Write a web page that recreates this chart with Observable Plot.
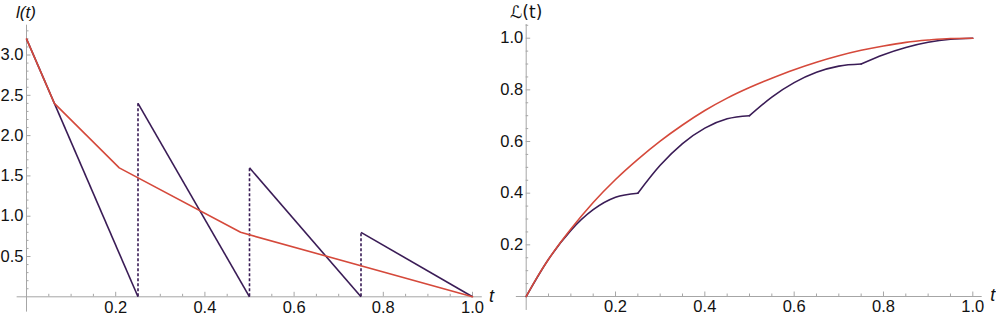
<!DOCTYPE html>
<html>
<head>
<meta charset="utf-8">
<script src="https://cdn.jsdelivr.net/npm/d3@7"></script>
<script src="https://cdn.jsdelivr.net/npm/@observablehq/plot@0.6"></script>
<style>
  html, body { margin: 0; padding: 0; background: #fff; }
  #row { display: flex; flex-direction: row; width: 996px; height: 320px; }
  #row svg { flex: none; }
</style>
</head>
<body>
<div id="row"></div>
<script>
// ---- Left panel data: l(t) ----
const sawStart = [0, 0.25, 0.5, 0.75];
const sawPeak  = [3.2, 2.4, 1.6, 0.8];
const sawEnd   = [0.25, 0.5, 0.75, 1.0];
const jumpT    = [0.25, 0.5, 0.75];
const jumpTop  = [2.4, 1.6, 0.8];

const redT = [0, 0.0625, 0.208, 0.48, 1.0];
const redL = [3.2, 2.4, 1.6, 0.8, 0];

// ---- Right panel data: Lorenz curves ----
const lorT = [0, 0.05, 0.1, 0.15, 0.2, 0.25, 0.3, 0.35, 0.4, 0.45, 0.5,
              0.55, 0.6, 0.65, 0.7, 0.75, 0.8, 0.85, 0.9, 0.95, 1.0];
const lorPurple = [0, 0.144, 0.256, 0.336, 0.384, 0.4, 0.508, 0.592, 0.652, 0.688, 0.7,
                   0.772, 0.828, 0.868, 0.892, 0.9, 0.936, 0.964, 0.984, 0.996, 1.0];
const lorRedT = [0, 0.025, 0.05, 0.1, 0.15, 0.2, 0.25, 0.3, 0.35, 0.4, 0.45, 0.5,
                 0.55, 0.6, 0.65, 0.7, 0.75, 0.8, 0.85, 0.9, 0.95, 1.0];
const lorRed = [0, 0.076, 0.144, 0.261, 0.364, 0.453, 0.531, 0.6015, 0.664, 0.72, 0.768, 0.809,
                0.845, 0.878, 0.907, 0.932, 0.953, 0.970, 0.984, 0.993, 0.999, 1.0];
const kinks = [0.25, 0.5, 0.75];

// ---- Ticks ----
const xMajor = [0.2, 0.4, 0.6, 0.8, 1.0];
const xMinor = d3.range(1, 21).map(i => i * 0.05).filter(v => !xMajor.some(m => Math.abs(m - v) < 1e-9));
const yMajorL = [0.5, 1.0, 1.5, 2.0, 2.5, 3.0];
const yMinorL = d3.range(1, 34).map(i => i * 0.1).filter(v => !yMajorL.some(m => Math.abs(m - v) < 1e-9));
const yMajorR = [0.2, 0.4, 0.6, 0.8, 1.0];
const yMinorR = d3.range(1, 22).map(i => i * 0.05).filter(v => !yMajorR.some(m => Math.abs(m - v) < 1e-9));

const PURPLE = "#3a1c56";
const RED = "#d5493b";
const AXIS = "#a6a6a6";
const TXT = "#111";
const FONT = "'Liberation Sans', Arial, sans-serif";
const fmt = d3.format(".1f");
const style = {fontFamily: FONT, fontSize: "16px", color: TXT, background: "#fff", overflow: "visible"};

function axes(yMajor, yMinor, xExt, yExt) {
  return [
    Plot.ruleY([0], {x1: xExt[0], x2: xExt[1], stroke: AXIS, strokeWidth: 1}),
    Plot.ruleX([0], {y1: yExt[0], y2: yExt[1], stroke: AXIS, strokeWidth: 1}),
    Plot.axisX({ticks: xMinor, tickSize: -2.5, text: null, stroke: AXIS, label: null}),
    Plot.axisX({ticks: xMajor, tickSize: -4.5, text: null, stroke: AXIS, label: null}),
    Plot.axisX({ticks: xMajor, tickSize: 0, tickPadding: 4, tickFormat: fmt, label: null, fill: TXT, fontSize: 16.5, fontFamily: FONT}),
    Plot.axisY({ticks: yMinor, tickSize: -2.5, text: null, stroke: AXIS, label: null}),
    Plot.axisY({ticks: yMajor, tickSize: -4.5, text: null, stroke: AXIS, label: null}),
    Plot.axisY({ticks: yMajor, tickSize: 0, tickPadding: 3, tickFormat: fmt, label: null, fill: TXT, fontSize: 16.5, fontFamily: FONT})
  ];
}

const labelOpts = {textAnchor: "middle", lineAnchor: "middle", fill: TXT, fontFamily: FONT};

// Left panel
const saw = sawStart.map((s, i) => ({x1: s, y1: sawPeak[i], x2: sawEnd[i], y2: 0}));
const jumps = jumpT.map((t, i) => ({t, top: jumpTop[i]}));
const redLine = redT.map((t, i) => ({t, v: redL[i]}));

const left = Plot.plot({
  width: 498, height: 320,
  marginLeft: 26, marginRight: 26, marginTop: 38.4, marginBottom: 23.7,
  x: {domain: [0, 1]},
  y: {domain: [0, 3.2]},
  style,
  marks: [
    ...axes(yMajorL, yMinorL, [-0.021, 1.022], [-0.19, 3.37]),
    Plot.ruleX(jumps, {x: "t", y1: 0, y2: "top", stroke: PURPLE, strokeWidth: 1.6, strokeDasharray: "3,2"}),
    Plot.link(saw, {x1: "x1", y1: "y1", x2: "x2", y2: "y2", stroke: PURPLE, strokeWidth: 1.6}),
    Plot.line(redLine, {x: "t", y: "v", stroke: RED, strokeWidth: 1.6}),
    Plot.text(["l(t)"], {...labelOpts, frameAnchor: "top-left", dx: -0.5, dy: -26, fontStyle: "italic", fontSize: 17}),
    Plot.text(["t"], {...labelOpts, frameAnchor: "bottom-right", dx: 19, dy: -1, fontStyle: "italic", fontSize: 18})
  ]
});

// Right panel
const seg = t => Math.min(3, Math.floor(t / 0.25 + 1e-9));
const purplePts = [];
lorT.forEach((t, i) => {
  purplePts.push({t, v: lorPurple[i], z: seg(t)});
  if (kinks.some(k => Math.abs(k - t) < 1e-9)) purplePts.push({t, v: lorPurple[i], z: seg(t) - 1});
});
purplePts.sort((a, b) => a.z - b.z || a.t - b.t);
const redPts = lorRedT.map((t, i) => ({t, v: lorRed[i]}));

const right = Plot.plot({
  width: 498, height: 320,
  marginLeft: 27.7, marginRight: 23.7, marginTop: 37.7, marginBottom: 24,
  x: {domain: [0, 1]},
  y: {domain: [0, 1]},
  style,
  marks: [
    ...axes(yMajorR, yMinorR, [-0.022, 1.021], [-0.054, 1.053]),
    Plot.line(purplePts, {x: "t", y: "v", z: "z", curve: "monotone-x", stroke: PURPLE, strokeWidth: 1.6}),
    Plot.line(redPts, {x: "t", y: "v", curve: "monotone-x", stroke: RED, strokeWidth: 1.6}),
    Plot.text(["ℒ(t)"], {...labelOpts, frameAnchor: "top-left", dx: 0, dy: -26, fontSize: 17, fontFamily: "'DejaVu Sans', " + FONT}),
    Plot.text(["t"], {...labelOpts, frameAnchor: "bottom-right", dx: 20, dy: -1, fontStyle: "italic", fontSize: 18})
  ]
});

document.getElementById("row").append(left, right);
</script>
</body>
</html>
